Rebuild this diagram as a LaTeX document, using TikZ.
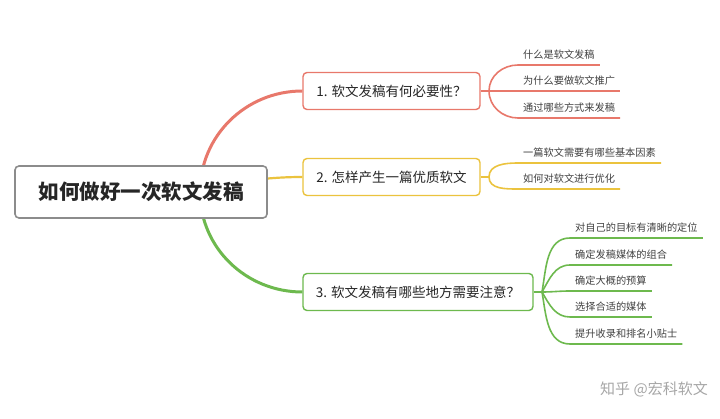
\documentclass[tikz,border=0pt]{standalone}
\usepackage{fontspec}
\setmainfont{Noto Sans CJK SC}
\usetikzlibrary{backgrounds}
\definecolor{cred}{HTML}{E8786B}
\definecolor{cyel}{HTML}{EBC33E}
\definecolor{cgrn}{HTML}{6DB94E}
\definecolor{cgry}{HTML}{8C8C8C}
\tikzset{
  rootbox/.style={draw=cgry,line width=1.6pt,rounded corners=4pt,fill=white,minimum width=252pt,minimum height=52pt,
    font=\fontsize{20.5}{22}\selectfont\bfseries,text=black!85},
  topic/.style={draw=#1,line width=1.4pt,rounded corners=4pt,fill=white,minimum height=37pt,
    font=\fontsize{13.5}{15}\selectfont,text=black!85},
  leaf/.style={anchor=south west,inner xsep=5pt,inner ysep=4pt,text height=8pt,text depth=2pt,
    font=\fontsize{10.2}{12}\selectfont,text=black!75},
  twig/.style={draw=#1,line width=1.6pt},
  trunk/.style={draw=#1,line width=3pt}
}
\begin{document}
\begin{tikzpicture}[x=1pt,y=-1pt]
  \useasboundingbox (0,0) rectangle (720,419);
  \node[rootbox] (root) at (141,192) {如何做好一次软文发稿};
  \coordinate (rr) at (200,192);
  \node[topic=cred,minimum width=177pt] (b1) at (391.5,91) {1. 软文发稿有何必要性？};
  \node[topic=cyel,minimum width=177pt] (b2) at (391.5,177) {2. 怎样产生一篇优质软文};
  \node[topic=cgrn,minimum width=230pt] (b3) at (418,292) {3. 软文发稿有哪些地方需要注意？};
  \coordinate (j1) at (489,91);
  \coordinate (j2) at (489,177);
  \coordinate (j3) at (542,292);
  \foreach \n/\y/\t in {1/65/什么是软文发稿,2/91/为什么要做软文推广,3/118/通过哪些方式来发稿}
    {\node[leaf] (a\n) at (518,\y) {\t};}
  \foreach \n/\y/\t in {1/163/一篇软文需要有哪些基本因素,2/189/如何对软文进行优化}
    {\node[leaf] (c\n) at (518,\y) {\t};}
  \foreach \n/\y/\t in {1/238/对自己的目标有清晰的定位,2/265/确定发稿媒体的组合,3/291/确定大概的预算,4/317/选择合适的媒体,5/344/提升收录和排名小贴士}
    {\node[leaf] (d\n) at (570,\y) {\t};}
  \node[text=black!35,font=\fontsize{15}{17}\selectfont] (mark) at (654,389) {知乎 @宏科软文};
  \begin{scope}[on background layer]
    \draw[trunk=cred] (rr) to[out=90,in=180] (b1.west);
    \draw[trunk=cgrn] (rr) to[out=-90,in=180] (b3.west);
    \draw[trunk=cyel,line width=2.2pt] (root.center) to[out=0,in=180] (b2.west);
    \draw[twig=cred] (b1.east) -- (j1);
    \draw[twig=cyel] (b2.east) -- (j2);
    \draw[twig=cgrn] (b3.east) -- (j3);
    \foreach \n/\o in {1/90,2/0,3/-90}
      {\draw[twig=cred] (j1) to[out=\o,in=180] (a\n.south west) -- (a\n.south east);}
    \foreach \n/\o in {1/90,2/-90}
      {\draw[twig=cyel] (j2) to[out=\o,in=180] (c\n.south west) -- (c\n.south east);}
    \foreach \n/\o in {1/80,2/60,3/0,4/-60,5/-80}
      {\draw[twig=cgrn] (j3) to[out=\o,in=180] (d\n.south west) -- (d\n.south east);}
  \end{scope}
\end{tikzpicture}
\end{document}
